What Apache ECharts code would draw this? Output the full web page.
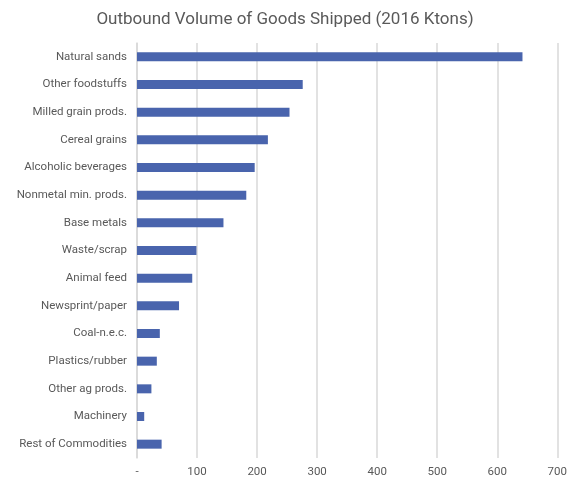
<!DOCTYPE html>
<html>
<head>
<meta charset="utf-8">
<script src="https://cdn.jsdelivr.net/npm/echarts@6/dist/echarts.min.js"></script>
<style>
  html, body { margin: 0; padding: 0; background: #fff; }
  #chart { width: 570px; height: 482px; }
</style>
</head>
<body>
<div id="chart"></div>
<script>
// categories listed top to bottom
const categories = [
  'Natural sands', 'Other foodstuffs', 'Milled grain prods.', 'Cereal grains',
  'Alcoholic beverages', 'Nonmetal min. prods.', 'Base metals', 'Waste/scrap',
  'Animal feed', 'Newsprint/paper', 'Coal-n.e.c.', 'Plastics/rubber',
  'Other ag prods.', 'Machinery', 'Rest of Commodities'
]
const volumes = [642, 276, 254, 218, 196, 182, 144, 99, 92, 70, 38, 33, 24, 12, 41]

const chart = echarts.init(document.getElementById('chart'))
chart.setOption({
  animation: false,
  title: {
    text: 'Outbound Volume of Goods Shipped (2016 Ktons)',
    left: 'center',
    top: 6,
    textStyle: { fontFamily: 'Roboto', fontSize: 17, fontWeight: 'normal', color: '#595959' }
  },
  grid: { left: 137, right: 11, top: 43, bottom: 24 },
  xAxis: {
    type: 'value',
    min: 0,
    max: 700,
    interval: 100,
    axisLine: { show: false },
    axisTick: { show: false },
    splitLine: { lineStyle: { color: '#d9d9d9', width: 1.5 } },
    axisLabel: {
      margin: 8,
      color: '#595959',
      fontFamily: 'Roboto',
      fontSize: 11.5,
      formatter: v => (v === 0 ? '-' : String(v))
    }
  },
  yAxis: {
    type: 'category',
    inverse: true,
    data: categories,
    axisLine: { show: true, lineStyle: { color: '#d9d9d9', width: 1.5 } },
    axisTick: { show: false },
    axisLabel: { margin: 10, color: '#595959', fontFamily: 'Roboto', fontSize: 11.5 }
  },
  series: [{
    type: 'bar',
    data: volumes,
    barWidth: 9,
    itemStyle: { color: '#4964ad' }
  }]
})
</script>
</body>
</html>
